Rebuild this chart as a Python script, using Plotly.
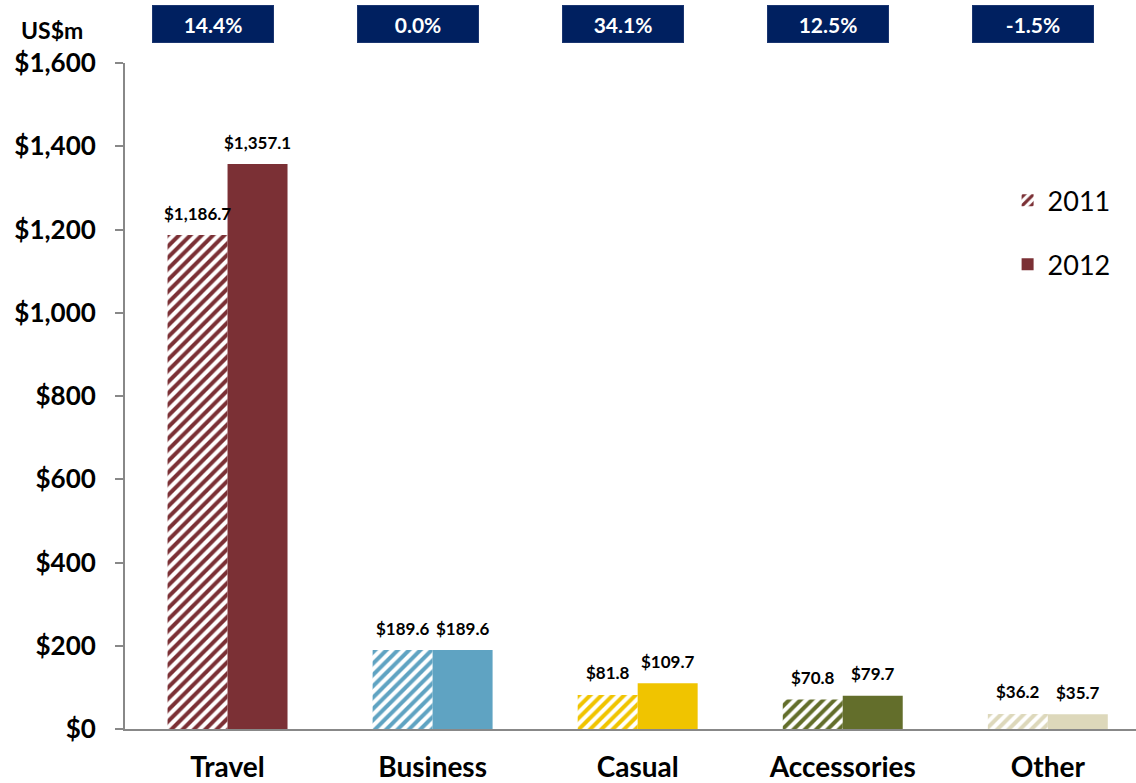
import plotly.graph_objects as go

categories = ["Travel", "Business", "Casual", "Accessories", "Other"]
sales_2011 = [1186.7, 189.6, 81.8, 70.8, 36.2]
sales_2012 = [1357.1, 189.6, 109.7, 79.7, 35.7]
growth_labels = ["14.4%", "0.0%", "34.1%", "12.5%", "-1.5%"]
bar_colors = ["#7B3035", "#5FA3C2", "#F0C400", "#636E2B", "#DDD8BB"]
y_ticks = [0, 200, 400, 600, 800, 1000, 1200, 1400, 1600]
y_tick_text = ["$0", "$200", "$400", "$600", "$800", "$1,000", "$1,200", "$1,400", "$1,600"]

font_family = "Lato, 'Open Sans', sans-serif"

fig = go.Figure()

fig.add_trace(go.Bar(
    name="2011",
    x=categories,
    y=sales_2011,
    marker=dict(
        color="white",
        line=dict(width=0),
        pattern=dict(shape="/", fgcolor=bar_colors, bgcolor="white",
                     size=8, solidity=0.5, fillmode="replace", fgopacity=1),
    ),
    legendgroup="a",
))

fig.add_trace(go.Bar(
    name="2012",
    x=categories,
    y=sales_2012,
    marker=dict(color=bar_colors, line=dict(width=0)),
    legendgroup="b",
))

# Value labels above each bar (bars sit 30px either side of the category centre)
for series, shift in ((sales_2011, -30), (sales_2012, 30)):
    for cat, val in zip(categories, series):
        fig.add_annotation(
            x=cat, xref="x", y=val, yref="y",
            xshift=shift, yshift=22,
            text=f"<b>${val:,.1f}</b>",
            showarrow=False, yanchor="middle",
            font=dict(size=17, color="black", family=font_family),
        )

# Year-over-year growth badges above each category
for i, g in enumerate(growth_labels):
    fig.add_annotation(
        x=i - 0.07, xref="x",
        y=1.058, yref="paper",
        xanchor="center", yanchor="middle",
        text=f"<b>{g}</b>",
        showarrow=False,
        width=118, height=34,
        bgcolor="#002060",
        bordercolor="#1a3570", borderwidth=1,
        font=dict(size=21, color="white", family=font_family),
    )

fig.add_annotation(
    x=-0.072, xref="paper", y=1.049, yref="paper",
    xanchor="center", yanchor="middle",
    text="<b>US$m</b>", showarrow=False,
    font=dict(size=23, color="black", family=font_family),
)

fig.update_layout(
    width=1136, height=783,
    margin=dict(l=125, r=0, t=63, b=52),
    paper_bgcolor="white", plot_bgcolor="white",
    barmode="group",
    bargap=0.415,
    bargroupgap=0,
    showlegend=True,
    legend=dict(
        x=0.873, y=0.83, xanchor="left", yanchor="top",
        font=dict(size=27, color="black", family=font_family),
        traceorder="grouped", tracegroupgap=26,
        bgcolor="rgba(0,0,0,0)",
    ),
    xaxis=dict(
        range=[-0.5, 4.43],
        showline=True, linecolor="#888888", linewidth=2,
        ticks="", showgrid=False,
        tickfont=dict(size=28, color="black", family=font_family, weight="bold"),
        ticklabelstandoff=12,
    ),
    yaxis=dict(
        range=[0, 1600],
        tickvals=y_ticks,
        ticktext=y_tick_text,
        showline=True, linecolor="#888888", linewidth=2,
        ticks="outside", ticklen=8, tickcolor="#888888", tickwidth=2,
        showgrid=False, zeroline=False,
        tickfont=dict(size=26, color="black", family=font_family, weight="bold"),
        ticklabelstandoff=14,
    ),
)

fig.write_html("out.html")
